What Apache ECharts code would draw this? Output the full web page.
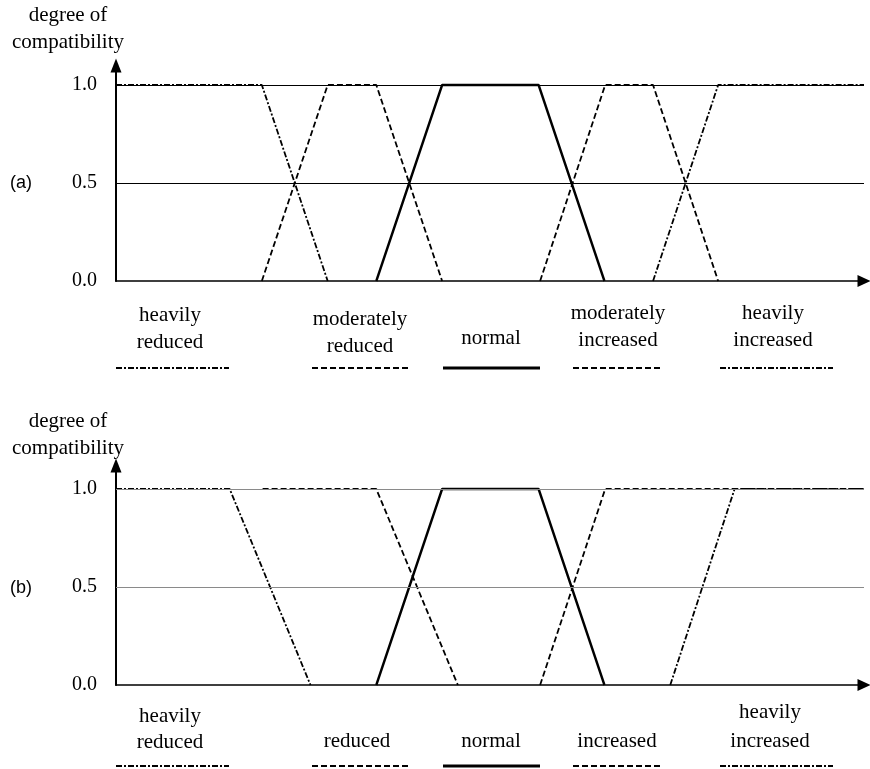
<!DOCTYPE html>
<html><head><meta charset="utf-8">
<script src="https://cdn.jsdelivr.net/npm/echarts@6/dist/echarts.min.js"></script>
<style>html,body{margin:0;padding:0;background:#fff}#c{width:870px;height:769px}</style>
</head><body><div id="c"></div>
<script>
// ---- data (x in arbitrary units 0..100, y = degree of compatibility) ----
const yTicks = [0, 0.5, 1.0];
const yTitle = ['degree of', 'compatibility'];
const panelTags = ['(a)', '(b)'];

// Panel (a)
const aHeavilyReduced     = [[0,1],[19.5,1],[28.3,0]];
const aModeratelyReduced  = [[19.5,0],[28.3,1],[34.8,1],[43.6,0]];
const aNormal             = [[34.8,0],[43.6,1],[56.5,1],[65.3,0]];
const aModeratelyIncr     = [[56.7,0],[65.4,1],[71.8,1],[80.5,0]];
const aHeavilyIncr        = [[71.8,0],[80.5,1],[100,1]];
const aLabels = [['heavily','reduced'],['moderately','reduced'],['normal'],['moderately','increased'],['heavily','increased']];

// Panel (b)
const bHeavilyReduced = [[0,1],[15.2,1],[26.0,0]];
const bReduced        = [[19.6,1],[34.8,1],[45.7,0]];
const bNormal         = [[34.8,0],[43.6,1],[56.5,1],[65.3,0]];
const bIncreased      = [[56.7,0],[65.4,1],[100,1]];
const bHeavilyIncr    = [[74.1,0],[82.7,1],[100,1]];
const bLabels = [['heavily','reduced'],['reduced'],['normal'],['increased'],['heavily','increased']];

// ---- styles ----
const DASHDOT = [6,2,2,2];
const DASH = [6,3];
const styles = [
  {type: DASHDOT, width: 1.8},
  {type: DASH, width: 1.8},
  {type: 'solid', width: 2.4},
  {type: DASH, width: 1.8},
  {type: DASHDOT, width: 1.8}
];
const SERIF = '"Liberation Serif","Times New Roman",serif';
const SANS = '"Liberation Sans",Arial,sans-serif';

const chart = echarts.init(document.getElementById('c'), null, {renderer: 'canvas'});

function grids() {
  return [
    {left: 116, right: 6, top: 281 - 1.1 * 196, height: 1.1 * 196},
    {left: 116, right: 6, top: 685 - 1.12 * 196, height: 1.12 * 196}
  ];
}
function xAx(i) {
  return {type: 'value', gridIndex: i, min: 0, max: 100,
    axisLine: {show: true, lineStyle: {color: '#000', width: 1.6}, symbol: ['none','triangle'], symbolSize: [12,13]},
    axisTick: {show: false}, axisLabel: {show: false}, splitLine: {show: false}};
}
function yAx(i, max) {
  return {type: 'value', gridIndex: i, min: 0, max: max, interval: 0.5,
    axisLine: {show: true, lineStyle: {color: '#000', width: 2}, symbol: ['none','triangle'], symbolSize: [11,14]},
    axisTick: {show: false}, splitLine: {show: false},
    axisLabel: {margin: 19, color: '#000', fontFamily: SERIF, fontSize: 20,
      formatter: v => yTicks.some(t => Math.abs(t - v) < 1e-9) ? v.toFixed(1) : ''}};
}
function ser(data, i, st, extra) {
  return Object.assign({type: 'line', xAxisIndex: i, yAxisIndex: i, data: data, symbol: 'none',
    lineStyle: {color: '#000', width: st.width, type: st.type}, silent: true, animation: false, z: 3}, extra || {});
}
function gridLines(i, color) {
  return {type: 'line', xAxisIndex: i, yAxisIndex: i, data: [], silent: true, animation: false, z: 1,
    markLine: {symbol: 'none', silent: true, animation: false, label: {show: false},
      lineStyle: {color: color, width: 1, type: 'solid'},
      data: [{yAxis: 0.5}, {yAxis: 1.0}]}};
}

const aSeries = [aHeavilyReduced, aModeratelyReduced, aNormal, aModeratelyIncr, aHeavilyIncr];
const bSeries = [bHeavilyReduced, bReduced, bNormal, bIncreased, bHeavilyIncr];

const series = [gridLines(0, '#000'), gridLines(1, '#8a8a8a')];
aSeries.forEach((d, k) => series.push(ser(d, 0, styles[k])));
bSeries.forEach((d, k) => series.push(ser(d, 1, styles[k])));

// ---- annotation layout (legend-like samples beneath each panel) ----
const sampleX = [[116,229],[312,410],[443,540],[573,663],[720,833]];
const aTextX = [170, 360, 491, 618, 773];
const bTextX = [170, 357, 491, 617, 770];
const aTextY = [[315,342],[319,346],[338],[313,340],[313,340]];
const bTextY = [[716,742],[741],[741],[741],[712,741]];
const aLineY = 368, bLineY = 766;

const graphic = [];
function txt(s, x, y, font, size, align) {
  graphic.push({type: 'text', x: x, y: y, silent: true,
    style: {text: s, font: size + 'px ' + font, fill: '#000', textAlign: align || 'center', textVerticalAlign: 'middle'}});
}
function sample(x1, x2, y, st) {
  graphic.push({type: 'line', silent: true, shape: {x1: x1, y1: y, x2: x2, y2: y},
    style: {stroke: '#000', lineWidth: st.type === 'solid' ? 3 : 2, lineDash: st.type === 'solid' ? null : st.type}});
}
// y-axis titles
txt(yTitle[0], 68, 15, SERIF, 21); txt(yTitle[1], 68, 42, SERIF, 21);
txt(yTitle[0], 68, 421, SERIF, 21); txt(yTitle[1], 68, 448, SERIF, 21);
txt(panelTags[0], 21, 183, SANS, 18); txt(panelTags[1], 21, 588, SANS, 18);
aLabels.forEach((lines, k) => {
  lines.forEach((s, j) => txt(s, aTextX[k], aTextY[k][j], SERIF, 21));
  sample(sampleX[k][0], sampleX[k][1], aLineY, styles[k]);
});
bLabels.forEach((lines, k) => {
  lines.forEach((s, j) => txt(s, bTextX[k], bTextY[k][j], SERIF, 21));
  sample(sampleX[k][0], sampleX[k][1], bLineY, styles[k]);
});

chart.setOption({
  animation: false,
  backgroundColor: '#fff',
  grid: grids(),
  xAxis: [xAx(0), xAx(1)],
  yAxis: [yAx(0, 1.1), yAx(1, 1.12)],
  series: series,
  graphic: graphic
});
</script></body></html>
